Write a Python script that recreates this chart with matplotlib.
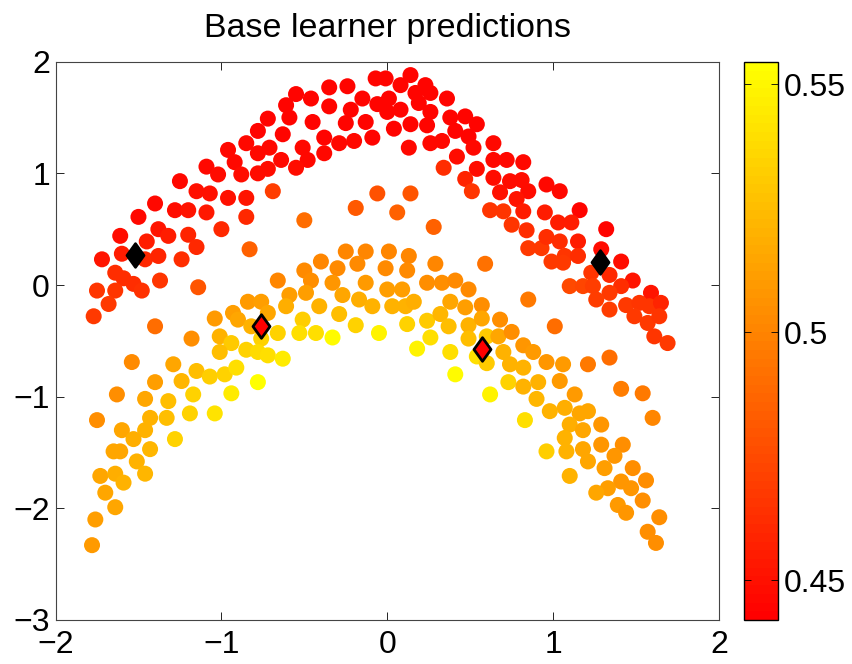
import numpy as np
import matplotlib
matplotlib.use('Agg')
import matplotlib.pyplot as plt
from matplotlib.path import Path

plt.rcParams['font.family'] = ['Liberation Sans', 'DejaVu Sans']

# upper moon: x, y, prediction
x_up = [-1.25, -1.40, -1.28, -1.50, -1.61, -1.38, -1.32, -1.45, -1.72, -1.60,
        -1.46, -1.38, -1.24, -1.64, -1.59, -1.53, -1.48, -1.37, -1.75, -1.64,
        -1.68, -1.77, -1.14, -1.40,
        -0.07, -0.01, 0.08, -0.35, -0.24, -0.55, -0.46, -0.15, 0.01, -0.06,
        -0.61, -0.35, -0.22, 0.08, 0.00, -0.59, -0.72, -0.45, -0.25, -0.13,
        -0.78, -0.63, -0.38, -0.29, -0.20, -0.09, 0.04, -0.85, -0.96, -0.78,
        -0.71, -0.51, -0.38, -0.92, -0.64, -0.48, -1.09, -1.02, -0.88, -0.78,
        -0.72, -0.55, -1.15, -1.07, -0.96, -0.85, -0.69, -1.20, -1.09, -0.85,
        -1.00, -1.20, -1.15, -0.83, -0.50, -0.06, -0.19, 0.06,
        0.14, 0.23, 0.17, 0.26, 0.36, 0.19, 0.26, 0.14, 0.24, 0.38,
        0.47, 0.54, 0.41, 0.49, 0.13, 0.26, 0.33, 0.52, 0.64, 0.42,
        0.64, 0.72, 0.82, 0.34, 0.54, 0.47, 0.64, 0.74, 0.81, 0.51,
        0.68, 0.85, 0.78, 0.14, 0.62, 0.70, 0.82, 0.28, 0.75, 0.84,
        0.85, 0.93,
        0.96, 1.04, 0.95, 1.16, 1.03, 1.11, 1.32, 0.96, 1.04, 1.15,
        1.29, 1.07, 0.99, 1.06, 1.15, 1.41, 1.23, 1.34, 1.48, 1.10,
        1.18, 1.24, 1.41, 1.34, 1.26, 1.59, 1.44, 1.52, 1.58, 1.65,
        1.34, 1.49, 1.57, 1.64, 1.01, 1.61, 1.69, 1.34]
y_up = [0.93, 0.73, 0.67, 0.61, 0.44, 0.50, 0.44, 0.39, 0.23, 0.28,
        0.23, 0.26, 0.23, 0.11, 0.06, 0.01, -0.05, 0.04, -0.05, -0.05,
        -0.17, -0.28, -0.02, -0.37,
        1.85, 1.85, 1.79, 1.77, 1.78, 1.71, 1.67, 1.67, 1.67, 1.62,
        1.61, 1.60, 1.57, 1.57, 1.55, 1.50, 1.49, 1.46, 1.45, 1.46,
        1.38, 1.35, 1.32, 1.27, 1.29, 1.32, 1.40, 1.27, 1.21, 1.18,
        1.23, 1.23, 1.18, 1.10, 1.12, 1.12, 1.06, 0.99, 0.99, 1.00,
        1.04, 1.05, 0.84, 0.82, 0.78, 0.78, 0.84, 0.67, 0.65, 0.61,
        0.50, 0.45, 0.34, 0.32, 0.58, 0.82, 0.69, 0.65,
        1.88, 1.79, 1.72, 1.72, 1.67, 1.63, 1.55, 1.44, 1.43, 1.50,
        1.51, 1.44, 1.38, 1.33, 1.23, 1.27, 1.29, 1.23, 1.27, 1.15,
        1.12, 1.12, 1.10, 1.05, 1.04, 0.95, 0.96, 0.93, 0.94, 0.84,
        0.83, 0.84, 0.77, 0.82, 0.67, 0.66, 0.66, 0.52, 0.54, 0.49,
        0.33, 0.33,
        0.90, 0.84, 0.65, 0.67, 0.56, 0.56, 0.50, 0.43, 0.39, 0.39,
        0.32, 0.26, 0.21, 0.20, 0.26, 0.21, 0.11, 0.09, 0.04, -0.01,
        -0.01, -0.01, -0.01, -0.07, -0.13, -0.07, -0.18, -0.16, -0.19, -0.16,
        -0.22, -0.28, -0.34, -0.28, -0.37, -0.46, -0.52, -0.65]
c_up = [0.447, 0.447, 0.448, 0.447, 0.449, 0.452, 0.455, 0.455, 0.452, 0.455,
        0.460, 0.458, 0.462, 0.462, 0.463, 0.463, 0.464, 0.465, 0.465, 0.465,
        0.467, 0.468, 0.480, 0.490,
        0.444, 0.444, 0.444, 0.444, 0.444, 0.444, 0.444, 0.444, 0.444, 0.444,
        0.444, 0.444, 0.444, 0.444, 0.444, 0.444, 0.444, 0.444, 0.444, 0.444,
        0.444, 0.444, 0.444, 0.446, 0.446, 0.444, 0.444, 0.446, 0.446, 0.446,
        0.446, 0.446, 0.446, 0.447, 0.446, 0.446, 0.447, 0.448, 0.448, 0.448,
        0.448, 0.448, 0.450, 0.450, 0.450, 0.452, 0.470, 0.452, 0.453, 0.460,
        0.460, 0.458, 0.460, 0.485, 0.490, 0.478, 0.482, 0.485,
        0.444, 0.444, 0.444, 0.444, 0.444, 0.444, 0.444, 0.444, 0.444, 0.444,
        0.444, 0.444, 0.444, 0.444, 0.446, 0.446, 0.446, 0.446, 0.446, 0.448,
        0.446, 0.446, 0.446, 0.462, 0.448, 0.458, 0.448, 0.448, 0.448, 0.465,
        0.450, 0.448, 0.452, 0.480, 0.465, 0.465, 0.455, 0.485, 0.465, 0.462,
        0.468, 0.468,
        0.447, 0.447, 0.455, 0.445, 0.455, 0.455, 0.445, 0.462, 0.462, 0.455,
        0.448, 0.465, 0.468, 0.468, 0.462, 0.448, 0.465, 0.460, 0.452, 0.475,
        0.472, 0.470, 0.462, 0.468, 0.470, 0.452, 0.468, 0.465, 0.465, 0.458,
        0.470, 0.468, 0.468, 0.465, 0.490, 0.465, 0.468, 0.490]

# lower moon: x, y, prediction
x_lo = [-1.18, -0.66, -0.84, -0.76, -0.72, -1.04, -0.93, -0.90, -0.82, -0.66,
        -1.01, -0.94, -0.76,
        -1.01, -0.85, -0.78, -0.72, -0.63, -1.54, -1.29, -1.15, -1.07, -0.98,
        -0.91, -0.78, -1.40, -1.24, -1.63, -1.46, -1.32, -1.17, -0.94, -1.75,
        -1.43, -1.33, -1.19, -1.04, -1.60, -1.46, -1.53, -1.28, -1.65, -1.61,
        -1.43, -1.51, -1.73, -1.64, -1.59, -1.46, -1.70, -1.64, -1.76, -1.78,
        -0.25, -0.13, 0.01, 0.13, -0.50, -0.40, -0.30, -0.18, -0.01, 0.12,
        0.29, 0.59, -0.46, -0.33, -0.13, 0.00, 0.09, 0.24, 0.33, 0.41,
        0.49, 0.85, -0.59, -0.49, -0.61, -0.41, -0.27, -0.17, -0.09, 0.03,
        0.11, 0.16, 0.38, 0.47, 0.57, 0.68, -0.51, -0.29, -0.19, -0.05,
        0.12, 0.24, 0.32, 0.37, 0.49, 0.57, -0.53, -0.43, -0.33, 0.26,
        0.49, 0.60, 0.67, 0.18, 0.38, 0.54, 0.60, 0.41, 0.62,
        0.75, 0.82, 0.88, 0.70, 0.96, 1.06, 1.21, 0.74, 0.82, 0.73,
        0.82, 0.91, 1.04, 1.41, 1.54, 1.13, 0.90, 0.98, 1.07, 1.16,
        1.21, 1.60, 0.83, 1.10, 1.18, 1.29, 1.07, 0.96, 1.08, 1.18,
        1.29, 1.42, 1.21, 1.37, 1.31, 1.48, 1.10, 1.56, 1.41, 1.33,
        1.26, 1.47, 1.54, 1.39, 1.44, 1.64, 1.57, 1.62]
y_lo = [-0.48, 0.04, -0.15, -0.15, -0.25, -0.30, -0.25, -0.31, -0.37, -0.43,
        -0.46, -0.52, -0.48,
        -0.60, -0.58, -0.60, -0.63, -0.66, -0.69, -0.71, -0.77, -0.82, -0.80,
        -0.74, -0.87, -0.87, -0.86, -0.98, -1.02, -1.04, -0.98, -0.97, -1.21,
        -1.19, -1.19, -1.15, -1.15, -1.30, -1.30, -1.38, -1.38, -1.49, -1.49,
        -1.47, -1.58, -1.71, -1.69, -1.77, -1.69, -1.86, -1.99, -2.10, -2.33,
        0.30, 0.30, 0.30, 0.26, 0.13, 0.21, 0.15, 0.19, 0.15, 0.13,
        0.19, 0.19, 0.04, 0.02, 0.02, -0.04, -0.04, 0.02, 0.02, 0.04,
        -0.04, -0.13, -0.09, -0.07, -0.19, -0.19, -0.09, -0.13, -0.19, -0.19,
        -0.19, -0.15, -0.15, -0.20, -0.18, -0.31, -0.31, -0.26, -0.36, -0.43,
        -0.35, -0.32, -0.26, -0.37, -0.36, -0.30, -0.43, -0.43, -0.47, -0.47,
        -0.48, -0.46, -0.46, -0.57, -0.60, -0.64, -0.70, -0.80, -0.98,
        -0.42, -0.54, -0.60, -0.60, -0.69, -0.71, -0.71, -0.71, -0.74, -0.87,
        -0.91, -0.87, -0.86, -0.93, -0.97, -0.98, -1.02, -1.13, -1.10, -1.15,
        -1.13, -1.19, -1.21, -1.25, -1.30, -1.25, -1.37, -1.49, -1.49, -1.47,
        -1.43, -1.43, -1.58, -1.53, -1.64, -1.64, -1.71, -1.75, -1.76, -1.82,
        -1.86, -1.82, -1.93, -1.97, -2.04, -2.08, -2.21, -2.31]
c_lo = [0.505, 0.500, 0.510, 0.512, 0.515, 0.510, 0.512, 0.515, 0.520, 0.535,
        0.520, 0.530, 0.535,
        0.525, 0.535, 0.538, 0.540, 0.545, 0.502, 0.515, 0.525, 0.532, 0.535,
        0.540, 0.555, 0.512, 0.522, 0.505, 0.515, 0.525, 0.535, 0.545, 0.505,
        0.520, 0.525, 0.535, 0.542, 0.515, 0.520, 0.518, 0.535, 0.515, 0.515,
        0.522, 0.520, 0.515, 0.518, 0.520, 0.522, 0.515, 0.515, 0.512, 0.510,
        0.500, 0.500, 0.500, 0.500, 0.502, 0.500, 0.503, 0.502, 0.503, 0.503,
        0.500, 0.492, 0.505, 0.507, 0.510, 0.512, 0.512, 0.505, 0.505, 0.503,
        0.503, 0.495, 0.512, 0.512, 0.518, 0.520, 0.515, 0.518, 0.520, 0.520,
        0.520, 0.518, 0.515, 0.512, 0.505, 0.505, 0.532, 0.525, 0.535, 0.548,
        0.535, 0.530, 0.522, 0.525, 0.520, 0.515, 0.540, 0.540, 0.552, 0.540,
        0.525, 0.530, 0.515, 0.548, 0.540, 0.540, 0.530, 0.552, 0.548,
        0.505, 0.508, 0.510, 0.520, 0.508, 0.510, 0.495, 0.520, 0.520, 0.535,
        0.520, 0.520, 0.510, 0.497, 0.495, 0.510, 0.522, 0.520, 0.518, 0.515,
        0.515, 0.500, 0.540, 0.518, 0.515, 0.507, 0.520, 0.532, 0.520, 0.515,
        0.507, 0.505, 0.515, 0.507, 0.512, 0.505, 0.520, 0.505, 0.508, 0.512,
        0.515, 0.508, 0.505, 0.510, 0.508, 0.505, 0.505, 0.505]

# selected points shown as diamonds
sel_x = [-1.52, -0.76, 0.57, 1.28]
sel_y = [0.27, -0.37, -0.57, 0.21]
sel_face = ['black', 'red', 'red', 'black']

cmin, cmax = 0.442, 0.5544
cmap = plt.get_cmap('autumn', 64)

fig = plt.figure(figsize=(8.53, 6.64), dpi=100)
ax = fig.add_axes([0.0651, 0.0663, 0.7778, 0.8408])
cax = fig.add_axes([0.8722, 0.0663, 0.0402, 0.8399])

sc = ax.scatter(x_up + x_lo, y_up + y_lo, c=c_up + c_lo, cmap=cmap,
                vmin=cmin, vmax=cmax, s=133, edgecolors='none', zorder=2)

diamond = Path([(0, 1), (0.72, 0), (0, -1), (-0.72, 0), (0, 1)],
               [Path.MOVETO, Path.LINETO, Path.LINETO, Path.LINETO, Path.CLOSEPOLY])
for xs, ys, fc in zip(sel_x, sel_y, sel_face):
    ax.plot(xs, ys, marker=diamond, ms=17, mfc=fc, mec='black', mew=2,
            ls='none', zorder=3)

ax.set_xlim(-2, 2)
ax.set_ylim(-3, 2)
ax.set_xticks([-2, -1, 0, 1, 2])
ax.set_yticks([-3, -2, -1, 0, 1, 2])
ax.tick_params(direction='in', top=True, right=True, length=6, width=0.6,
               labelsize=23)
ax.tick_params(axis='x', pad=7)
ax.tick_params(axis='y', pad=4)
for sp in ax.spines.values():
    sp.set_linewidth(0.8)
    sp.set_color('#444444')
ax.set_title('Base learner predictions', fontsize=24.5, pad=18)

cb = fig.colorbar(sc, cax=cax)
cb.set_ticks([0.45, 0.5, 0.55])
cb.set_ticklabels(['0.45', '0.5', '0.55'])
cb.ax.tick_params(direction='in', left=True, right=True, length=5, width=0.6,
                  labelsize=23, pad=4)
cb.outline.set_linewidth(1.0)

fig.savefig('out.png', dpi=100)
